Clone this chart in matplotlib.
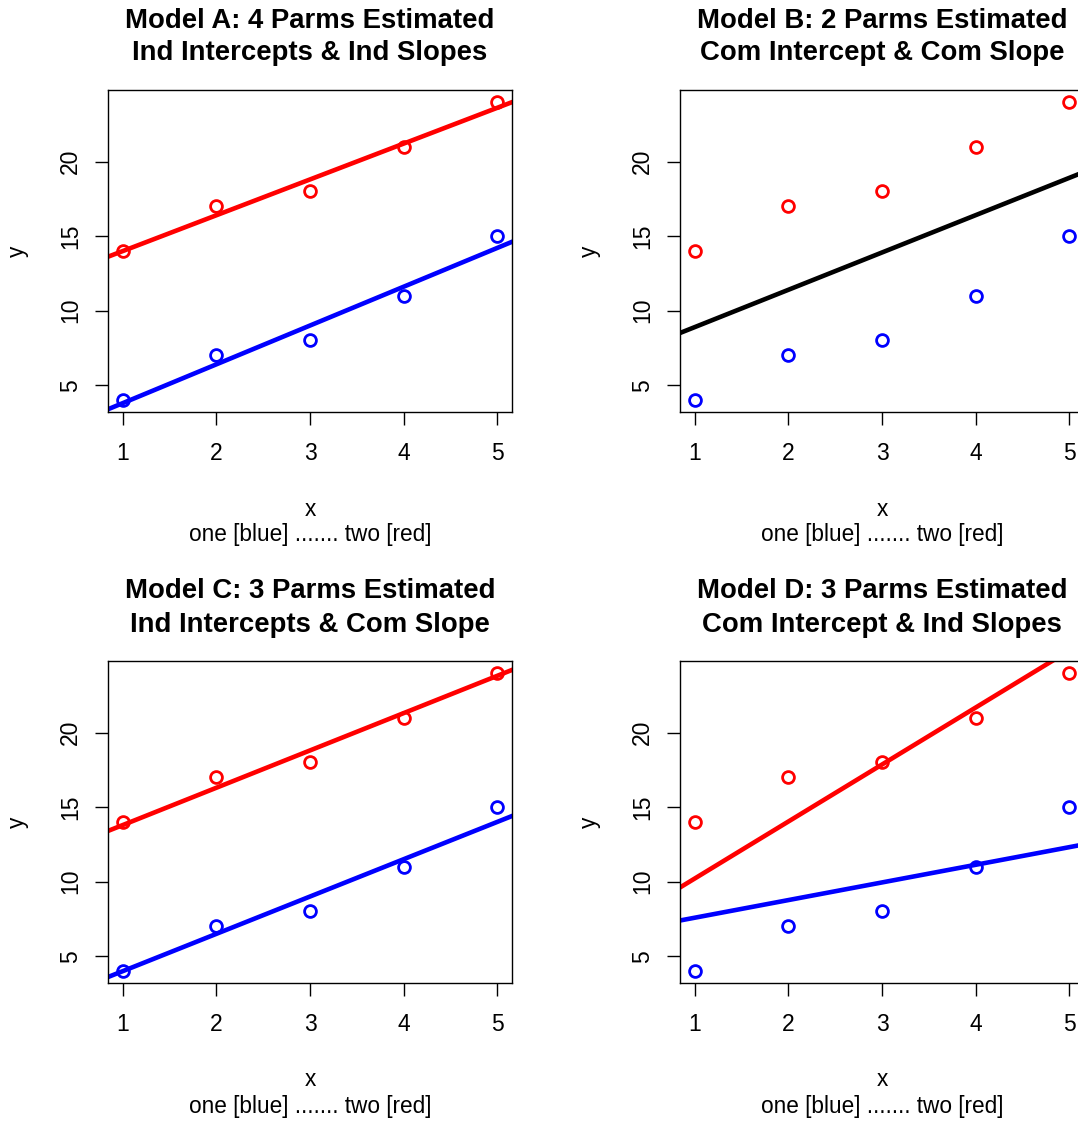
import matplotlib
matplotlib.use("Agg")
import matplotlib.pyplot as plt
import numpy as np

plt.rcParams['font.family'] = ['Liberation Sans', 'DejaVu Sans']

x = np.array([1, 2, 3, 4, 5])
y_one = np.array([4, 7, 8, 11, 15])     # blue
y_two = np.array([14, 17, 18, 21, 24])  # red

titles = ["Model A: 4 Parms Estimated\nInd Intercepts & Ind Slopes",
          "Model B: 2 Parms Estimated\nCom Intercept & Com Slope",
          "Model C: 3 Parms Estimated\nInd Intercepts & Com Slope",
          "Model D: 3 Parms Estimated\nCom Intercept & Ind Slopes"]
subtitle = "one [blue] ....... two [red]"

W, H = 1078, 1122
fig = plt.figure(figsize=(W / 100, H / 100), dpi=100)

# axes boxes in pixels: left, top, right, bottom
boxes = [(108, 90, 512, 412), (680, 90, 1084, 412),
         (108, 661, 512, 983), (680, 661, 1084, 983)]

# least squares fits for each model
X = np.concatenate([x, x])
Y = np.concatenate([y_one, y_two])
g = np.concatenate([np.zeros(5), np.ones(5)])

def fit(cols):
    A = np.column_stack(cols)
    return np.linalg.lstsq(A, Y, rcond=None)[0]

xl = np.array([0.5, 5.5])
one = np.ones(10)

lines = []
# A: separate lines
pa1 = np.polyfit(x, y_one, 1)
pa2 = np.polyfit(x, y_two, 1)
lines.append([(np.polyval(pa1, xl), 'blue'), (np.polyval(pa2, xl), 'red')])
# B: common line
pb = np.polyfit(X, Y, 1)
lines.append([(np.polyval(pb, xl), 'black')])
# C: ind intercepts, common slope
c = fit([1 - g, g, X])
lines.append([(c[0] + c[2] * xl, 'blue'), (c[1] + c[2] * xl, 'red')])
# D: common intercept, ind slopes
d = fit([one, X * (1 - g), X * g])
lines.append([(d[0] + d[1] * xl, 'blue'), (d[0] + d[2] * xl, 'red')])

for k in range(4):
    l, t, r, b = boxes[k]
    ax = fig.add_axes([l / W, 1 - b / H, (r - l) / W, (b - t) / H])
    for yy, col in lines[k]:
        ax.plot(xl, yy, color=col, lw=3.3, zorder=2)
    ax.plot(x, y_one, 'o', mfc='none', mec='blue', ms=8.5, mew=2.0, zorder=3)
    ax.plot(x, y_two, 'o', mfc='none', mec='red', ms=8.5, mew=2.0, zorder=3)
    ax.set_xlim(0.84, 5.16)
    ax.set_ylim(3.2, 24.8)
    ax.set_xticks([1, 2, 3, 4, 5])
    ax.set_yticks([5, 10, 15, 20])
    ax.tick_params(direction='out', length=9.5, width=1, labelsize=16.5)
    ax.tick_params(axis='x', pad=12)
    ax.tick_params(axis='y', pad=9)
    for lab in ax.get_yticklabels():
        lab.set_rotation(90)
        lab.set_va('center')
    for s in ax.spines.values():
        s.set_linewidth(1)
    cx = (l + r) / 2
    fig.text(cx / W, 1 - (t - 53) / H, titles[k], ha='center', va='center',
             fontsize=19.8, fontweight='bold', linespacing=1.35)
    fig.text(cx / W, 1 - (b + 97) / H, "x", ha='center', va='center', fontsize=16.3)
    fig.text(cx / W, 1 - (b + 123) / H, subtitle, ha='center', va='center', fontsize=16.3)
    fig.text((l - 91) / W, 1 - (t + b) / 2 / H, "y", ha='center', va='center',
             rotation=90, fontsize=16.3)

fig.savefig("out.png", dpi=100)
